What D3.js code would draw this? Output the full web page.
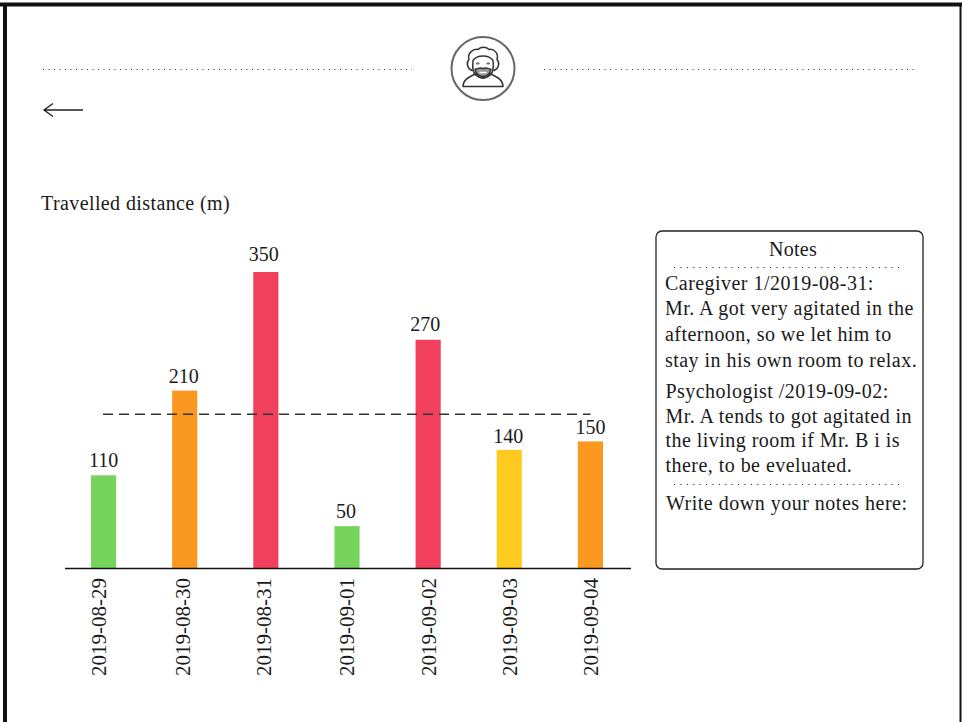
<!DOCTYPE html>
<html>
<head>
<meta charset="utf-8">
<script src="https://cdn.jsdelivr.net/npm/d3@7"></script>
<style>
  html, body { margin: 0; padding: 0; background: #fff; }
  svg { display: block; }
  text { font-family: "Liberation Serif", serif; fill: #1a1a1a; }
</style>
</head>
<body>
<div id="plot"></div>
<script>
// chart data
const dates = ["2019-08-29", "2019-08-30", "2019-08-31", "2019-09-01", "2019-09-02", "2019-09-03", "2019-09-04"];
const distances = [110, 210, 350, 50, 270, 140, 150];
const levels = ["green", "orange", "red", "green", "red", "yellow", "orange"];
const averageDistance = 182;

const noteLines1 = ["Caregiver 1/2019-08-31:", "Mr. A got very agitated in the", "afternoon, so we let him to", "stay in his own room to relax."];
const noteLines2 = ["Psychologist /2019-09-02:", "Mr. A tends to got agitated in", "the living room if Mr. B i is", "there, to be eveluated."];

const levelColor = { green: "#76d45d", orange: "#fa9820", red: "#f0405c", yellow: "#ffcb1f" };

// the mockup's labels are not quite centred on their bars
const tickNudge = [-4.5, -2, -2, 0, 1, 1, 1];
const valueNudge = [0, -1, -2, -1, -3, -1, 0];
const valueGap = [8, 8, 11, 8, 9, 7, 7];

const width = 962, height = 722;
const svg = d3.select("#plot").append("svg").attr("width", width).attr("height", height);

// page frame
svg.append("line").attr("x1", 0).attr("x2", width).attr("y1", 4.5).attr("y2", 4.5)
    .attr("stroke", "#111").attr("stroke-width", 4);
svg.append("line").attr("x1", 5).attr("x2", 5).attr("y1", 3).attr("y2", height)
    .attr("stroke", "#111").attr("stroke-width", 4);
svg.append("line").attr("x1", 960.5).attr("x2", 960.5).attr("y1", 3).attr("y2", height)
    .attr("stroke", "#111").attr("stroke-width", 2);

// header separators
[[43, 412], [544, 914]].forEach(([a, b]) => {
    svg.append("line").attr("x1", a).attr("x2", b).attr("y1", 69.5).attr("y2", 69.5)
        .attr("stroke", "#333").attr("stroke-width", 1).attr("stroke-dasharray", "1 4.5");
});

// avatar icon
const icon = svg.append("g").attr("transform", "translate(483,68.5)")
    .attr("fill", "none").attr("stroke", "#333").attr("stroke-width", 1.5)
    .attr("stroke-linecap", "round").attr("stroke-linejoin", "round");
icon.append("circle").attr("r", 31.5).attr("stroke", "#666").attr("stroke-width", 2);
icon.append("path").attr("d", "M-20,18 C-20,10 -12,8 -7,5 C-4,11 4,11 7,5 C12,8 20,10 20,18 Z");
icon.append("path").attr("d", "M-11,2 C-16,0 -17,-6 -14,-9 C-16,-15 -10,-20 -5,-19 C-2,-22 3,-22 6,-19 C11,-20 16,-15 14,-9 C17,-6 16,0 11,2");
icon.append("path").attr("d", "M-10,-8 C-6,-14 6,-14 10,-8 C11,0 10,6 5,8 C2,10 -2,10 -5,8 C-10,6 -11,0 -10,-8");
icon.append("path").attr("d", "M-8,1 C-4,-1 -2,-1 0,0 C2,-1 4,-1 8,1 C7,6 3,8 0,8 C-3,8 -7,6 -8,1 Z")
    .attr("fill", "#999");
icon.append("path").attr("d", "M-3,4 h6").attr("stroke", "#fff");
icon.append("path").attr("d", "M-6,-5 h1.5 M4.5,-5 h1.5").attr("stroke-width", 2).attr("stroke", "#666");

// back arrow
svg.append("path")
    .attr("d", "M83,110 H44 M53,103.5 L44,110 L53,116.5")
    .attr("fill", "none").attr("stroke", "#222").attr("stroke-width", 1.4);

// chart title
svg.append("text").attr("x", 41).attr("y", 210).attr("font-size", 20).attr("letter-spacing", 0.4)
    .text("Travelled distance (m)");

// scales
const x = d3.scaleBand().domain(dates).range([63, 631]).paddingInner(0.69).paddingOuter(0.345);
const y = d3.scaleLinear().domain([0, 350]).range([568.5, 272]);

// bars
svg.selectAll("rect.bar").data(dates).enter().append("rect")
    .attr("class", "bar")
    .attr("x", d => x(d))
    .attr("y", (d, i) => y(distances[i]))
    .attr("width", x.bandwidth())
    .attr("height", (d, i) => y(0) - y(distances[i]))
    .attr("fill", (d, i) => levelColor[levels[i]]);

// value labels
svg.selectAll("text.value").data(dates).enter().append("text")
    .attr("class", "value")
    .attr("x", (d, i) => x(d) + x.bandwidth() / 2 + valueNudge[i])
    .attr("y", (d, i) => y(distances[i]) - valueGap[i])
    .attr("text-anchor", "middle").attr("font-size", 20)
    .text((d, i) => distances[i]);

// average line
svg.append("line")
    .attr("x1", 103).attr("x2", x(dates[6]) + x.bandwidth() / 2)
    .attr("y1", y(averageDistance)).attr("y2", y(averageDistance))
    .attr("stroke", "#333").attr("stroke-width", 1.5).attr("stroke-dasharray", "10 6");

// x axis
const xAxis = svg.append("g").attr("transform", "translate(0,568.5)")
    .call(d3.axisBottom(x).tickSize(0));
xAxis.select(".domain").remove();
xAxis.append("line").attr("x1", 65).attr("x2", 631).attr("stroke", "#111").attr("stroke-width", 1.5);
xAxis.selectAll(".tick text")
    .attr("font-family", "Liberation Serif").attr("font-size", 21)
    .attr("fill", "#1a1a1a")
    .attr("text-anchor", "end")
    .attr("dominant-baseline", "central")
    .attr("transform", (d, i) => `translate(${tickNudge[i]},0) rotate(-90)`)
    .attr("x", -9.5).attr("y", 0).attr("dy", 0);

// notes panel
svg.append("rect").attr("x", 656).attr("y", 231).attr("width", 267).attr("height", 338).attr("rx", 6)
    .attr("fill", "#fff").attr("stroke", "#222").attr("stroke-width", 1.3);
svg.append("text").attr("x", 793).attr("y", 256).attr("text-anchor", "middle").attr("font-size", 20)
    .attr("letter-spacing", 0.3).text("Notes");
[267.5, 484.5].forEach(py => {
    svg.append("line").attr("x1", 674).attr("x2", 903).attr("y1", py).attr("y2", py)
        .attr("stroke", "#333").attr("stroke-width", 1).attr("stroke-dasharray", "1.2 5.2");
});

const noteSpacing = 0.46;
svg.selectAll("text.note1").data(noteLines1).enter().append("text")
    .attr("class", "note1").attr("x", 665).attr("y", (d, i) => 289.5 + i * 25.8)
    .attr("font-size", 20).attr("letter-spacing", noteSpacing).text(d => d);
svg.selectAll("text.note2").data(noteLines2).enter().append("text")
    .attr("class", "note2").attr("x", 665.5).attr("y", (d, i) => 398 + i * 24.7)
    .attr("font-size", 20).attr("letter-spacing", noteSpacing).text(d => d);
svg.append("text").attr("x", 666).attr("y", 510).attr("font-size", 20).attr("letter-spacing", 0.5)
    .text("Write down your notes here:");
</script>
</body>
</html>
